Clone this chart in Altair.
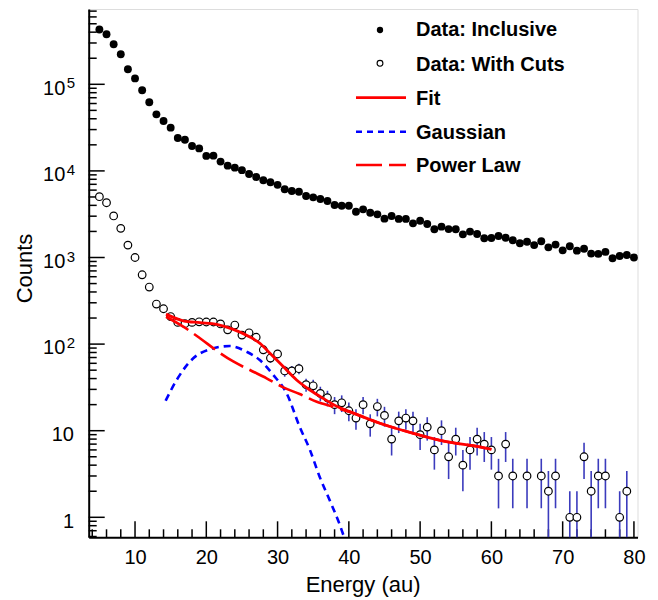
import math
import altair as alt
import pandas as pd

FONT = "Liberation Sans"
W, H = 548.8, 528.3
X_DOM = [3.5, 80.5]
Y_DOM = [0.5876, 7.405e5]

# ---------------- data ----------------
energy = list(range(5, 81))
inclusive = [430000, 378000, 290000, 222000, 149000, 117000, 85300, 62000, 45000, 37700,
             31600, 24000, 22900, 19400, 18200, 14900, 15000, 12800, 11500, 10900,
             10200, 9200, 8500, 7800, 7400, 6900,
             6130, 5860, 5750, 5130, 4950, 4740, 4490, 4040, 3960, 3960,
             3380, 3600, 3290, 3150, 2810, 3010, 2790, 2790, 2480, 2660,
             2440, 2120, 2270, 2130, 2120, 1850, 1990, 1870,
             1670, 1680, 1770, 1690, 1580, 1460, 1520, 1390, 1540, 1310,
             1410, 1210, 1350, 1200, 1260, 1110, 1100, 1160, 979, 1040, 1070, 1000]
with_cuts = [5040, 4290, 3020, 2170, 1390, 1000, 632, 456, 290, 256,
             208, 178, 172, 178, 181, 180, 180, 171, 146, 166,
             127, 135, 120, 86, 69, 77, 49, 49, 52, 34,
             33, 27, 24, 20, 21,
             17, 14, 20, 12, 19, 15, 8, 13, 14, 13,
             9, 11, 6, 10, 5, 8, 4, 6, 8, 7,
             6, 3, 7, 3, 0, 3, 0, 3, 2, 3,
             0, 1, 1, 5, 2, 3, 3, 0, 1, 2, 0]

fit_x = [14.35, 16.77, 19.11, 21.45, 23.78, 26.12, 27.53, 28.93, 30.79, 32.67,
         34.54, 36.4, 38.28, 40.15, 44.35, 49.03, 53.7, 58.38, 60.0]
fit_y = [222, 186, 177, 169, 148, 121, 102, 78.5, 55, 38.5,
         29.5, 23.6, 19.2, 16.6, 12.2, 9.33, 7.46, 6.5, 6.1]

gauss_x = [14.3, 15.84, 18.17, 20.5, 23.3, 25.66, 27.5, 29.4, 31.27, 33.1,
           34.54, 35.9, 37.3, 38.75, 39.8]
gauss_y = [22.2, 38.5, 68.6, 87, 95, 81.6, 65.5, 44, 27, 11.1,
           6, 2.94, 1.58, 0.81, 0.45]

power_x = [14.35, 16.77, 19.11, 21.45, 23.78, 26.12, 28.46, 30.8, 33.1, 35.5,
           37.8, 40.15, 44.35, 49.03, 53.7, 58.38, 60.0]
power_y = [207, 159, 117, 84, 63, 50.2, 40.3, 31.7, 26.5, 21.6,
           18.9, 16.4, 12.2, 9.33, 7.46, 6.5, 6.1]

x_major = [10, 20, 30, 40, 50, 60, 70, 80]
x_minor = [v for v in range(4, 81, 2) if v % 10]
y_major = [1, 10, 100, 1000, 10000, 100000]
y_minor = [m * 10 ** e for e in range(-1, 6) for m in range(2, 10)
           if Y_DOM[0] <= m * 10 ** e <= Y_DOM[1]]
y_plain_vals = [1, 10]
y_plain_text = ["1", "10"]
y_pow_vals = [100, 1000, 10000, 100000]
y_pow_exp = ["2", "3", "4", "5"]

legend_labels = ["Data: Inclusive", "Data: With Cuts", "Fit", "Gaussian", "Power Law"]

# ---------------- tables ----------------
incl_df = pd.DataFrame({"x": energy, "y": inclusive})
cuts_df = pd.DataFrame({"x": energy, "y": with_cuts})
cuts_df = cuts_df[cuts_df["y"] > 0].copy()
cuts_df["lo"] = [max(v - math.sqrt(v), 0.3) for v in cuts_df["y"]]
cuts_df["hi"] = [v + math.sqrt(v) for v in cuts_df["y"]]
fit_df = pd.DataFrame({"x": fit_x, "y": fit_y})
gauss_df = pd.DataFrame({"x": gauss_x, "y": gauss_y})
power_df = pd.DataFrame({"x": power_x, "y": power_y})

xs = alt.Scale(domain=X_DOM, nice=False, zero=False)
ys = alt.Scale(type="log", domain=Y_DOM, nice=False)
xaxis = alt.Axis(values=x_major, ticks=False, tickSize=0, labelPadding=10,
                 labelFontSize=20, labelFont=FONT, labelColor="black",
                 domainColor="black", domainWidth=2, grid=False, title=None,
                 labelFlush=False, format="d")
yaxis = alt.Axis(labels=False, ticks=False, tickSize=0, domainColor="black",
                 domainWidth=2, grid=False, title=None)


def X(f="x"):
    return alt.X(f"{f}:Q", scale=xs, axis=xaxis)


def Y(f="y"):
    return alt.Y(f"{f}:Q", scale=ys, axis=yaxis)


one = pd.DataFrame({"a": [0]})
layers = []

# ticks (inward, ROOT style)
layers.append(alt.Chart(pd.DataFrame({"x": x_major})).mark_rule(color="black", strokeWidth=1.5)
              .encode(x=X(), y=alt.value(H), y2=alt.value(H - 16)))
layers.append(alt.Chart(pd.DataFrame({"x": x_minor})).mark_rule(color="black", strokeWidth=1.5)
              .encode(x=X(), y=alt.value(H), y2=alt.value(H - 8)))
layers.append(alt.Chart(pd.DataFrame({"y": y_major})).mark_rule(color="black", strokeWidth=1.5)
              .encode(y=Y(), x=alt.value(0), x2=alt.value(16)))
layers.append(alt.Chart(pd.DataFrame({"y": y_minor})).mark_rule(color="black", strokeWidth=1.5)
              .encode(y=Y(), x=alt.value(0), x2=alt.value(8)))

# error bars
layers.append(alt.Chart(cuts_df).mark_rule(color="#3b3bbd", strokeWidth=1.6, clip=True)
              .encode(x=X(), y=Y("lo"), y2="hi:Q"))
# points
layers.append(alt.Chart(incl_df).mark_point(shape="circle", filled=True, color="black",
                                            size=62, opacity=1)
              .encode(x=X(), y=Y()))
layers.append(alt.Chart(cuts_df).mark_point(shape="circle", filled=False, fill="white",
                                            stroke="black", strokeWidth=1.2, size=58,
                                            opacity=1, fillOpacity=1)
              .encode(x=X(), y=Y()))
# curves
layers.append(alt.Chart(gauss_df).mark_line(color="#0000ff", strokeWidth=2.6,
                                            strokeDash=[7, 5], interpolate="monotone", clip=True)
              .encode(x=X(), y=Y()))
layers.append(alt.Chart(power_df).mark_line(color="#ff0000", strokeWidth=2.6,
                                            strokeDash=[26, 7], interpolate="monotone", clip=True)
              .encode(x=X(), y=Y()))
layers.append(alt.Chart(fit_df).mark_line(color="#ff0000", strokeWidth=2.8,
                                          interpolate="monotone", clip=True)
              .encode(x=X(), y=Y()))

# y tick labels (ROOT style, 10 with superscript)
layers.append(alt.Chart(pd.DataFrame({"y": y_plain_vals, "t": y_plain_text}))
              .mark_text(font=FONT, fontSize=20, align="right", baseline="alphabetic",
                         dy=10.3, color="black")
              .encode(y=Y(), x=alt.value(-14.7), text="t:N"))
layers.append(alt.Chart(pd.DataFrame({"y": y_pow_vals}))
              .mark_text(font=FONT, fontSize=20, align="right", baseline="alphabetic",
                         dy=10.3, color="black", text="10")
              .encode(y=Y(), x=alt.value(-23.4)))
layers.append(alt.Chart(pd.DataFrame({"y": y_pow_vals, "t": y_pow_exp}))
              .mark_text(font=FONT, fontSize=15, align="left", baseline="alphabetic",
                         dy=4, color="black")
              .encode(y=Y(), x=alt.value(-22), text="t:N"))

# axis titles
layers.append(alt.Chart(one).mark_text(font=FONT, fontSize=22, align="center",
                                       baseline="alphabetic", color="black")
              .encode(x=alt.value(W / 2), y=alt.value(583.3), text=alt.value("Energy (au)")))
layers.append(alt.Chart(one).mark_text(font=FONT, fontSize=22, align="center",
                                       baseline="alphabetic", color="black", angle=270)
              .encode(x=alt.value(-56.4), y=alt.value(259.5), text=alt.value("Counts")))

# legend
LX_TEXT = 327.3
rows_base = [27, 61.5, 96, 130, 163]
for lab, yb in zip(legend_labels, rows_base):
    layers.append(alt.Chart(one).mark_text(font=FONT, fontSize=20, fontWeight="bold",
                                           align="left", baseline="alphabetic", color="black")
                  .encode(x=alt.value(LX_TEXT), y=alt.value(yb), text=alt.value(lab)))
layers.append(alt.Chart(one).mark_point(shape="circle", filled=True, color="black", size=40,
                                        opacity=1)
              .encode(x=alt.value(291.3), y=alt.value(21)))
layers.append(alt.Chart(one).mark_point(shape="circle", filled=False, fill="white",
                                        stroke="black", strokeWidth=1.1, size=34, opacity=1)
              .encode(x=alt.value(291.3), y=alt.value(54.3)))
layers.append(alt.Chart(one).mark_rule(color="#ff0000", strokeWidth=2.8)
              .encode(x=alt.value(267.3), x2=alt.value(317.3), y=alt.value(88.7)))
layers.append(alt.Chart(one).mark_rule(color="#0000ff", strokeWidth=2.6, strokeDash=[6, 5])
              .encode(x=alt.value(267.3), x2=alt.value(317.3), y=alt.value(122.7)))
layers.append(alt.Chart(one).mark_rule(color="#ff0000", strokeWidth=2.6, strokeDash=[26, 7])
              .encode(x=alt.value(267.3), x2=alt.value(317.3), y=alt.value(156)))

chart = (
    alt.layer(*layers)
    .properties(width=W, height=H, autosize=alt.AutoSizeParams(type="none"),
                padding={"left": 80.7, "top": 1, "right": 12, "bottom": 62.7})
    .configure_view(stroke="#222222", strokeWidth=1.5)
    .configure(background="white")
)

chart.save("out.html", embed_options={"renderer": "svg", "actions": False})
